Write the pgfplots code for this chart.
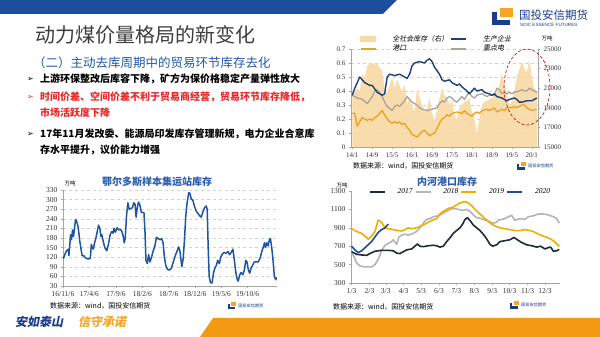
\documentclass[border=0pt]{standalone}
\usepackage{fontspec}
\setmainfont{Liberation Serif}
\newfontfamily\cjk{Noto Sans CJK SC}
\newfontfamily\cjkit{Noto Sans CJK SC}[FakeSlant=0.2]
\newfontfamily\dejavu{DejaVu Sans}
\newfontfamily\lsans{Liberation Sans}
\usepackage{pgfplots}
\pgfplotsset{compat=1.18}
\newcommand\fs[1]{\fontsize{#1}{#1}\selectfont}
\definecolor{bandblue}{HTML}{1D4E9E}
\definecolor{subblue}{HTML}{2159A8}
\definecolor{titleblue}{HTML}{2A5CB0}
\definecolor{navy}{HTML}{1B3C8C}
\definecolor{titlegray}{HTML}{3E3E3E}
\definecolor{c1blue}{HTML}{1E3F7A}
\definecolor{c1orange}{HTML}{EBA31F}
\definecolor{c1gray}{HTML}{A9A39A}
\definecolor{c1area}{HTML}{F9D9A2}
\definecolor{c2blue}{HTML}{1F55A0}
\definecolor{c3black}{HTML}{1E2A35}
\definecolor{c3gray}{HTML}{B5B5B5}
\definecolor{c3orange}{HTML}{F2AE00}
\definecolor{c3blue}{HTML}{1F4E96}
\definecolor{redtxt}{HTML}{E52A2A}
\definecolor{orangeband}{HTML}{F39A12}
\definecolor{logoorange}{HTML}{F5A623}
\newcommand\logoicon[3]{%
\begin{scope}[shift={(#1,#2)}, scale=#3]
 \fill[logoorange] (8,0) rectangle (21,-9);
 \fill[navy] (0,-4) rectangle (5,-17);
 \fill[navy] (0,-12) rectangle (18,-17);
\end{scope}}
\pgfplotsset{
 base/.style={scale only axis, anchor=south west,
   /pgf/number format/assume math mode=true,
   /pgf/number format/1000 sep={},
   ticklabel style={font=\fs{7}, text=black!80},
   tick style={color=gray!70, line width=0.4pt},
   axis line style={gray!70, line width=0.5pt},
   major tick length=2pt, tick align=outside},
 linelegend/.style={legend image code/.code={\draw[##1] (0pt,0pt) -- (15pt,0pt);}},
}
\begin{document}
\begin{tikzpicture}[x=1pt,y=1pt]
\path[use as bounding box, fill=white] (0,0) rectangle (600,337);
% bands
\fill[bandblue] (0,337) -- (397,337) -- (383,323) -- (0,323) -- cycle;
\fill[orangeband] (213,19) -- (600,19) -- (600,0) -- (200,0) -- cycle;
% logo
\logoicon{492}{329}{1}
\node[anchor=west, inner sep=0, text=navy] at (519,322) {\cjk\fs{11.5}国投安信期货};
\node[anchor=west, inner sep=0, text=navy] at (520,312.5) {\lsans\fs{4.6}SDIC ESSENCE FUTURES};
% titles
\node[anchor=west, inner sep=0, text=titlegray] at (35,302) {\cjk\fs{20}动力煤价量格局的新变化};
\node[anchor=west, inner sep=0, text=subblue] at (33,274) {\cjk\fs{12.5}（二）主动去库周期中的贸易环节库存去化};
% bullets
\node[anchor=west, inner sep=0] at (27,258) {\dejavu\fs{8}➢};
\node[anchor=west, inner sep=0] at (40,258) {\cjk\bfseries\fs{10}上游环保整改后库容下降，矿方为保价格稳定产量弹性放大};
\node[anchor=west, inner sep=0, text=redtxt] at (27,240) {\dejavu\fs{8}➢};
\node[anchor=west, inner sep=0, text=redtxt] at (40,240) {\cjk\bfseries\fs{10}时间价差、空间价差不利于贸易商经营，贸易环节库存降低，};
\node[anchor=west, inner sep=0, text=redtxt] at (40,224) {\cjk\bfseries\fs{10}市场活跃度下降};
\node[anchor=west, inner sep=0] at (27,203) {\dejavu\fs{8}➢};
\node[anchor=west, inner sep=0] at (40,203) {\cjk\bfseries\fs{10}17年11月发改委、能源局印发库存管理新规，电力企业合意库};
\node[anchor=west, inner sep=0] at (40,187) {\cjk\bfseries\fs{10}存水平提升，议价能力增强};
% slogan
\node[anchor=west, inner sep=0, text=navy] at (15,15) {\cjkit\bfseries\fs{12}安如泰山};
\node[anchor=west, inner sep=0, text=logoorange] at (78,15) {\cjkit\bfseries\fs{12}信守承诺};

% ================= chart 1 =================
\begin{axis}[base, at={(351pt,190pt)}, width=187pt, height=98pt,
  xmin=-0.5, xmax=74.5, ymin=0, ymax=0.7,
  axis x line*=bottom, axis y line*=left,
  ytick={0,0.1,0.2,0.3,0.4,0.5,0.6,0.7},
  yticklabel style={/pgf/number format/.cd, fixed, precision=1},
  xtick={0,8,16,24,32,40,48,56,64,72},
  xticklabels={14/1,14/9,15/5,16/1,16/9,17/5,18/1,18/9,19/5,20/1},
  ymajorgrids, grid style={dashed, gray!35, line width=0.4pt}]
\addplot[draw=none, forget plot] coordinates {(0,0)};
\end{axis}
\begin{axis}[base, at={(351pt,190pt)}, width=187pt, height=98pt,
  xmin=-0.5, xmax=74.5, ymin=15000, ymax=25000,
  axis x line=none, axis y line*=right, scaled y ticks=false,
  ytick={15000,17000,19000,21000,23000,25000}]
\addplot[fill=c1area, draw=none, fill opacity=0.9] coordinates {
(0,15000)(0,20400)(1,20700)(2,21000)(3,20600)(4,22500)(5,22000)(6,23300)(7,23500)(8,23600)(9,23400)
(10,23600)(11,23100)(12,22800)(13,21000)(14,20400)(15,21400)(16,22100)(17,21000)(18,21900)(19,21200)
(20,20700)(21,21400)(22,19300)(23,20000)(24,19200)(25,18600)(26,21000)(27,20000)(28,19300)(29,18600)
(30,19000)(31,20000)(32,18500)(33,17700)(34,18800)(35,20000)(36,21000)(37,20200)(38,20000)(39,19300)
(40,19800)(41,18300)(42,17800)(43,19000)(44,19300)(45,19600)(46,19700)(47,20000)(48,18600)(49,17900)
(50,16400)(51,17900)(52,19300)(53,19600)(54,19700)(55,19900)(56,20000)(57,20300)(58,20500)(59,21400)
(60,22500)(61,21400)(62,20500)(63,19300)(64,19700)(65,20700)(66,22100)(67,22900)(68,23700)(69,23000)
(70,22600)(71,23900)(72,22200)(73,21000)(74,20700)(74,15000)} -- cycle;
\end{axis}
\begin{axis}[base, at={(351pt,190pt)}, width=187pt, height=98pt,
  xmin=-0.5, xmax=74.5, ymin=0, ymax=0.7, hide axis, linelegend,
  legend columns=2, legend cell align=left,
  legend style={draw=none, fill=none, at={(0.03,1.185)}, anchor=north west,
    font=\cjkit\fs{7}, row sep=-1.5pt,
    /tikz/every odd column/.append style={column sep=14pt}}]
\addlegendimage{legend image code/.code={\fill[c1area] (0pt,-2.5pt) rectangle (15pt,2.5pt);}}
\addlegendentry{全社会库存（右）}
\addlegendimage{c1blue, line width=1.6pt}
\addlegendentry{生产企业}
\addlegendimage{c1orange, line width=1.6pt}
\addlegendentry{港口}
\addlegendimage{c1gray, line width=1.6pt}
\addlegendentry{重点电}
\addplot[forget plot, c1gray, line width=1.3pt, line join=round] coordinates {
(0,0.37)(2,0.35)(4,0.34)(6,0.31)(8,0.36)(9,0.40)(10,0.41)(11,0.39)(12,0.36)(13,0.32)(14,0.29)(16,0.26)
(17,0.29)(18,0.30)(19,0.29)(20,0.31)(21,0.33)(22,0.36)(23,0.34)(24,0.32)(26,0.30)(27,0.28)(28,0.27)
(30,0.26)(32,0.27)(34,0.28)(35,0.31)(36,0.33)(37,0.32)(38,0.35)(39,0.36)(40,0.35)(41,0.33)(42,0.32)
(43,0.34)(44,0.36)(45,0.34)(46,0.37)(47,0.39)(48,0.36)(49,0.35)(50,0.37)(52,0.38)(53,0.37)(54,0.36)
(55,0.37)(57,0.37)(58,0.42)(59,0.41)(60,0.38)(61,0.39)(62,0.38)(63,0.39)(64,0.38)(65,0.39)(67,0.40)
(68,0.41)(69,0.40)(70,0.40)(71,0.42)(72,0.41)(74,0.39)};
\addplot[forget plot, c1orange, line width=1.3pt, line join=round] coordinates {
(0,0.24)(1,0.24)(2,0.15)(3,0.18)(4,0.21)(5,0.20)(6,0.19)(7,0.20)(8,0.19)(9,0.21)(10,0.22)(11,0.24)
(12,0.26)(13,0.23)(14,0.20)(15,0.18)(16,0.17)(17,0.18)(18,0.17)(19,0.18)(20,0.16)(21,0.17)(22,0.14)
(23,0.12)(24,0.09)(25,0.08)(26,0.07)(27,0.09)(28,0.11)(29,0.12)(30,0.10)(31,0.08)(32,0.09)(33,0.10)
(34,0.13)(35,0.17)(36,0.20)(37,0.21)(38,0.23)(39,0.22)(40,0.24)(42,0.25)(44,0.24)(45,0.26)(46,0.24)
(47,0.23)(48,0.22)(49,0.24)(50,0.25)(51,0.24)(52,0.26)(54,0.27)(55,0.26)(56,0.27)(57,0.28)(58,0.25)
(59,0.26)(60,0.27)(61,0.26)(62,0.28)(64,0.28)(65,0.29)(66,0.28)(67,0.29)(68,0.30)(69,0.30)(70,0.28)
(71,0.27)(72,0.26)(74,0.27)};
\addplot[forget plot, c1blue, line width=1.4pt, line join=round] coordinates {
(0,0.37)(1,0.42)(3,0.50)(5,0.46)(7,0.44)(8,0.44)(10,0.39)(12,0.37)(13,0.38)(14,0.50)(15,0.52)(17,0.51)
(19,0.52)(21,0.50)(22,0.49)(23,0.52)(24,0.58)(25,0.60)(27,0.61)(29,0.60)(30,0.62)(31,0.63)(32,0.61)
(33,0.57)(35,0.52)(36,0.48)(37,0.47)(39,0.48)(40,0.46)(42,0.44)(43,0.45)(44,0.43)(46,0.40)(47,0.38)
(48,0.40)(49,0.42)(50,0.40)(52,0.41)(53,0.39)(55,0.38)(56,0.37)(57,0.38)(58,0.36)(60,0.35)(62,0.33)
(63,0.34)(65,0.35)(66,0.34)(67,0.32)(68,0.32)(70,0.33)(72,0.33)(74,0.35)};
\end{axis}
\node[anchor=center, inner sep=0] at (547,298.5) {\cjk\fs{5.5}万吨};
\draw[red!75!black, densely dashed, line width=0.6pt] (527,250) ellipse [x radius=23pt, y radius=38pt];
\node[anchor=west, inner sep=0] at (353,171) {\cjk\fs{7}数据来源：wind，国投安信期货};
\logoicon{517}{175}{0.45}
\node[anchor=west, inner sep=0, text=navy] at (528,171) {\cjk\fs{4.2}国投安信期货};

% ================= chart 2 =================
\node[inner sep=0, text=titleblue] at (157,155) {\cjk\bfseries\fs{10}鄂尔多斯样本集运站库存};
\node[inner sep=0] at (70,154) {\cjk\fs{5.5}万吨};
\begin{axis}[base, at={(63pt,51pt)}, width=214pt, height=96pt,
  xmin=0, xmax=650, ymin=30, ymax=330,
  axis x line*=bottom, axis y line*=left,
  ytick={30,60,...,330},
  xtick={0,80,161,241,321,401,481,561},
  xticklabels={16/11/6,17/4/6,17/9/6,18/2/6,18/7/6,18/12/6,19/5/6,19/10/6},
  ticklabel style={font=\fs{7.5}},
  ymajorgrids, grid style={dashed, gray!35, line width=0.4pt}]
\addplot[c2blue, line width=1.5pt, line join=round] coordinates {
(1,115)(6,130)(11,140)(16,145)(18,125)(23,190)(26,175)(29,205)(32,185)(38,238)(42,230)(46,215)(51,170)
(58,125)(63,125)(68,118)(74,115)(79,115)(83,117)(86,160)(89,150)(92,145)(96,165)(100,180)(104,200)
(108,220)(112,210)(115,185)(118,190)(122,170)(127,150)(133,140)(138,160)(143,190)(148,200)(152,195)
(155,210)(159,198)(164,212)(169,205)(174,208)(179,200)(183,185)(186,165)(189,180)(193,250)(197,290)
(201,270)(206,272)(211,275)(215,290)(219,285)(222,245)(225,270)(229,292)(233,285)(238,260)(243,260)
(246,258)(249,200)(252,110)(256,100)(260,128)(264,105)(269,120)(274,140)(279,155)(284,182)(289,178)
(295,175)(300,178)(304,165)(308,120)(312,95)(317,82)(323,80)(329,85)(335,105)(341,125)(347,140)
(351,152)(355,140)(358,115)(361,90)(365,115)(369,175)(373,250)(377,290)(382,322)(386,318)(390,300)
(394,300)(399,280)(404,265)(409,258)(415,250)(420,245)(425,262)(430,275)(435,280)(438,270)(441,150)
(444,60)(448,40)(453,40)(457,70)(461,85)(466,95)(470,110)(475,100)(479,120)(484,130)(489,135)(495,132)
(501,138)(506,128)(511,135)(516,145)(520,115)(524,80)(528,55)(532,45)(537,65)(541,72)(546,65)(551,80)
(555,110)(559,105)(563,80)(567,70)(571,85)(576,95)(581,105)(587,105)(593,105)(599,118)(604,138)
(608,150)(612,165)(615,150)(619,165)(623,155)(627,175)(630,178)(634,150)(638,110)(642,60)(646,50)
(650,57)};
\end{axis}
\node[anchor=west, inner sep=0] at (50,31) {\cjk\fs{7}数据来源：wind，国投安信期货};
\logoicon{228}{35}{0.4}
\node[anchor=west, inner sep=0, text=navy] at (238,31) {\cjk\fs{4.2}国投安信期货};

% ================= chart 3 =================
\node[inner sep=0, text=titleblue] at (447,155) {\cjk\bfseries\fs{10}内河港口库存};
\node[inner sep=0] at (342,152) {\cjk\fs{5.5}万吨};
\begin{axis}[base, at={(351pt,54pt)}, width=209pt, height=92pt,
  xmin=1, xmax=362, ymin=300, ymax=1300,
  axis x line*=bottom, axis y line*=left,
  ytick={300,500,...,1300},
  xtick={2,33,61,92,122,153,183,214,245,275,306,336},
  xticklabels={1/3,2/3,3/3,4/3,5/3,6/3,7/3,8/3,9/3,10/3,11/3,12/3},
  ticklabel style={font=\fs{7.5}},
  linelegend, legend columns=4,
  legend style={draw=none, fill=none, at={(0.07,0.99)}, anchor=west,
    font=\itshape\fs{7.5}, /tikz/every odd column/.append style={column sep=10pt}}]
\addlegendimage{c3black, line width=1.8pt}
\addlegendentry{2017}
\addlegendimage{c3gray, line width=1.8pt}
\addlegendentry{2018}
\addlegendimage{c3orange, line width=1.8pt}
\addlegendentry{2019}
\addlegendimage{c3blue, line width=1.8pt}
\addlegendentry{2020}
\addplot[forget plot, c3gray, line width=1.6pt, line join=round] coordinates {
(2,625)(6,590)(10.6,520)(16.4,485)(25,475)(36.6,475)(42.3,500)(48.1,560)(53.8,650)(59.6,710)(65.4,730)
(71.1,750)(74,770)(79.8,720)(83.8,800)(88.4,820)(94.2,830)(99.9,820)(108.6,840)(114.3,860)(120.1,900)
(125.8,950)(131.6,990)(137.4,1000)(143.1,1020)(151.8,1030)(160.4,1060)(166.2,1080)(171.9,1100)
(177.7,1110)(186.3,1100)(195,1090)(200.7,1100)(206.5,1080)(212.2,1040)(218,1010)(223.8,1005)
(229.5,990)(235.3,980)(241,965)(246.8,950)(252.6,960)(255.4,985)(261.2,990)(267,1000)(272.7,1020)
(278.5,1035)(284.2,980)(290,995)(295.8,1000)(301.5,990)(307.3,1020)(315.9,1030)(324.6,1050)
(333.2,1050)(341.8,1040)(350.5,1020)(356.2,1000)(360.8,950)};
\addplot[forget plot, c3black, line width=1.6pt, line join=round] coordinates {
(2,640)(10.6,612)(19.3,605)(27.9,600)(33.7,620)(42.3,645)(53.8,655)(65.4,655)(74,650)(79.8,625)
(85.5,620)(91.3,640)(97,660)(105.7,670)(111.4,700)(115.5,725)(120.1,700)(125.8,695)(134.5,705)
(143.1,710)(148.9,705)(154.6,690)(160.4,700)(166.2,750)(171.9,790)(177.7,840)(183.4,870)(189.2,900)
(193.8,940)(197.8,990)(201.9,1010)(206.5,980)(212.2,930)(218,900)(223.8,870)(229.5,830)(235.3,780)
(241,720)(245.6,700)(252.6,715)(258.3,750)(267,760)(275.6,770)(282.5,795)(288.3,770)(295.8,740)
(304.4,715)(313,705)(321.7,690)(328.6,700)(336.1,670)(341.8,685)(345.9,690)(350.5,645)(356.2,650)
(360.8,665)};
\addplot[forget plot, c3orange, line width=1.6pt, line join=round] coordinates {
(2,890)(10.6,860)(19.3,840)(26.8,800)(30.8,775)(36.6,810)(42.3,860)(48.1,985)(53.8,960)(59.6,900)
(65.4,890)(74,880)(82.6,870)(88.4,865)(94.2,880)(99.9,900)(105.7,890)(114.3,900)(120.1,915)
(125.8,930)(131.6,950)(140.2,980)(148.9,1000)(154.6,1050)(160.4,1080)(169,1110)(177.7,1125)
(183.4,1150)(189.2,1170)(197.8,1185)(203.6,1170)(209.4,1140)(215.1,1100)(223.8,1050)(232.4,1000)
(238.2,970)(243.9,940)(249.7,920)(258.3,900)(267,890)(275.6,880)(284.2,870)(292.9,870)(301.5,880)
(310.2,870)(315.9,860)(324.6,830)(333.2,810)(341.8,790)(350.5,760)(360.8,700)};
\addplot[forget plot, c3blue, line width=1.6pt, line join=round] coordinates {
(2,700)(7.8,660)(13.5,630)(19.3,650)(27.9,700)(36.6,750)(42.3,800)(48.1,850)(53.8,880)(59.6,900)
(65.4,940)};
\end{axis}
\node[anchor=west, inner sep=0] at (333,30) {\cjk\fs{7}数据来源：wind，国投安信期货};
\logoicon{510}{36}{0.45}
\node[anchor=west, inner sep=0, text=navy] at (521,32) {\cjk\fs{4.2}国投安信期货};
\end{tikzpicture}
\end{document}
